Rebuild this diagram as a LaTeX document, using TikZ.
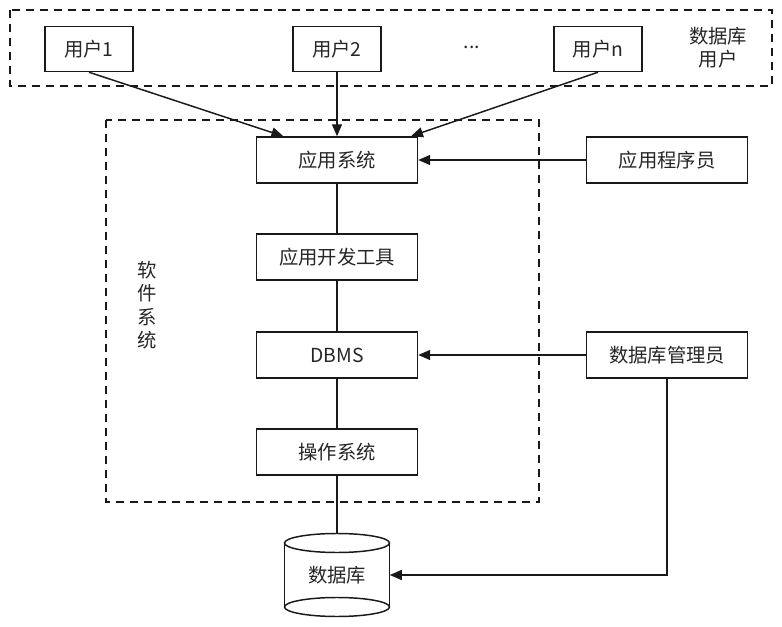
\documentclass[tikz,border=0pt]{standalone}
\usepackage{fontspec}
\setmainfont{Noto Sans CJK SC}
\usetikzlibrary{arrows.meta,calc}
\begin{document}
\begin{tikzpicture}[x=0.75pt,y=-0.75pt,
  txt/.style={text=black!85, font=\fontsize{14.5}{17.5}\selectfont},
  box/.style={txt, draw=black!90, line width=1.1pt, fill=white, minimum width=120.75pt, minimum height=34.5pt, inner sep=0pt},
  ubox/.style={box, minimum width=66pt, minimum height=33.75pt},
  grp/.style={draw=black!90, line width=1.6pt, dash pattern=on 6pt off 4.5pt},
  link/.style={line width=1.1pt, draw=black!90},
  arr/.style={link, -{Triangle[length=9pt,width=7.5pt]}}]
\useasboundingbox (0,0) rectangle (782,627);
\draw[grp] (10,10) rectangle (772,86);
\draw[grp] (106,120) rectangle (539,502);
% users
\node[ubox] (u1) at (89,49) {用户1};
\node[ubox] (u2) at (337,49) {用户2};
\node[txt] (dots) at (472,47) {...};
\node[ubox] (un) at (598,49) {用户n};
\node[txt, align=center] (dbu) at (718,48) {数据库\\用户};
% software stack
\node[box] (app) at (337,160) {应用系统};
\node[box] (dev) at (337,257) {应用开发工具};
\node[box] (dbms) at (337,355) {DBMS};
\node[box] (os) at (337,452) {操作系统};
\node[box] (prog) at (667,160) {应用程序员};
\node[box] (dba) at (667,355) {数据库管理员};
\node[txt, align=center] (sw) at (147,305) {软\\件\\系\\统};
% database cylinder
\node[minimum width=78.75pt, minimum height=63pt, inner sep=0pt] (db) at (337,575) {};
\fill[white] (284.5,543) rectangle (389.5,607);
\draw[link] (284.5,543) -- (284.5,607);
\draw[link] (389.5,543) -- (389.5,607);
\draw[link] (337,543) ellipse [x radius=52.5, y radius=9.5];
\draw[link] (337,607) ellipse [x radius=52.5, y radius=9.5];
\node[txt] (dbt) at (db) {数据库};
% connectors
\draw[arr] (u1.south) -- ($(app.north west)!0.17!(app.north east)$);
\draw[arr] (u2.south) -- (app.north);
\draw[arr] (un.south) -- ($(app.north west)!0.955!(app.north east)$);
\draw[arr] (prog.west) -- (app.east);
\draw[arr] (dba.west) -- (dbms.east);
\draw[link] (app) -- (dev);
\draw[link] (dev) -- (dbms);
\draw[link] (dbms) -- (os);
\draw[link] (os.south) -- (db.north);
\draw[arr] (dba.south) |- (db.east);
\end{tikzpicture}
\end{document}
